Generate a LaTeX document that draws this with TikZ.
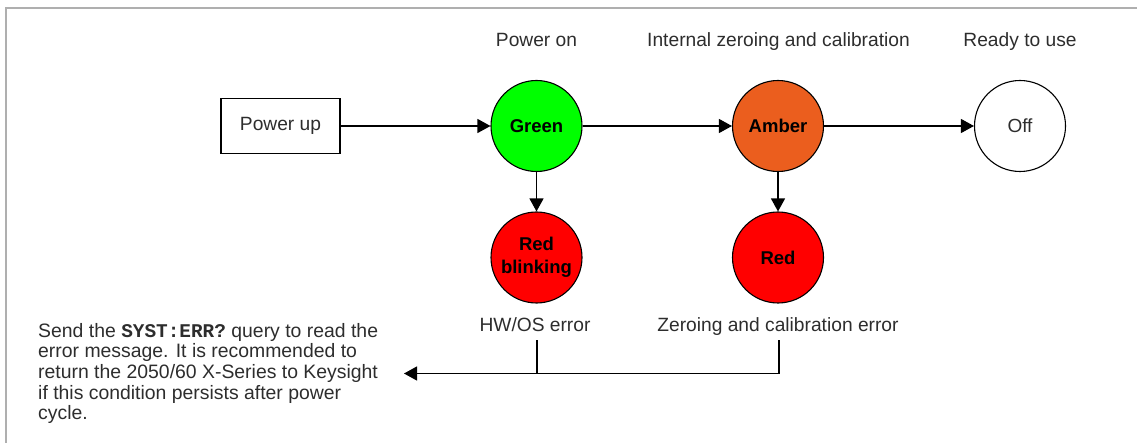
\documentclass[tikz,border=0pt]{standalone}
\usepackage{fontspec}
\setmainfont{Liberation Sans}
\setmonofont{Liberation Mono}
\usetikzlibrary{arrows.meta}
\definecolor{txt}{RGB}{45,45,45}
\definecolor{lampgreen}{RGB}{0,255,0}
\definecolor{lampamber}{RGB}{235,94,30}
\definecolor{lampred}{RGB}{255,0,0}
\definecolor{framegray}{RGB}{175,175,175}
\begin{document}
\begin{tikzpicture}[x=1pt,y=-1pt,
  every node/.style={font=\fontsize{19.2}{20.5}\selectfont, text=txt},
  lamp/.style={circle, draw=black, line width=1.1pt, minimum size=91pt, inner sep=0pt,
    align=center, font=\fontsize{18.5}{23}\selectfont\bfseries, text=black},
  boxnode/.style={draw=black, line width=1.1pt, minimum width=119pt, minimum height=55pt, inner sep=0pt},
  lbl/.style={anchor=base, inner sep=0pt},
  conn/.style={draw=black, line width=1.2pt},
  arr/.style={conn, -{Triangle[length=13pt,width=14pt]}}]
\useasboundingbox (0,0) rectangle (1137,443);
\draw[framegray, line width=1.5pt] (6,443) -- (6,8) -- (1137,8);
% header labels
\node[lbl] (hpower) at (536.5,47) {Power on};
\node[lbl] (hcal) at (778.5,47) {Internal zeroing and calibration};
\node[lbl] (hready) at (1020,47) {Ready to use};
% main row
\node[boxnode] (pu) at (280.5,126) {Power up};
\node[lamp, fill=lampgreen] (green) at (536.5,126) {Green};
\node[lamp, fill=lampamber] (amber) at (778,126) {Amber};
\node[lamp, fill=white, font=\fontsize{19}{23}\selectfont, text=txt] (off) at (1020,126) {Off};
% error row
\node[lamp, fill=lampred] (redb) at (536.5,257.5) {Red\\blinking};
\node[lamp, fill=lampred] (red) at (778,257.5) {Red};
\node[lbl] (hwlbl) at (535,332) {HW/OS error};
\node[lbl] (zclbl) at (778,332) {Zeroing and calibration error};
\node[anchor=north west, inner sep=0pt, align=left, font=\fontsize{19.4}{20.6}\selectfont] (msg) at (38,323)
  {Send the \texttt{\bfseries SYST:ERR?} query to read the\\
   error message. It is recommended to\\
   return the 2050/60 X-Series to Keysight\\
   if this condition persists after power\\
   cycle.};
% connectors
\draw[arr] (pu) -- (green);
\draw[arr] (green) -- (amber);
\draw[arr] (amber) -- (off);
\draw[arr] (green) -- (redb);
\draw[arr] (amber) -- (red);
\coordinate (hwtop) at (537,340);
\coordinate (zctop) at (779,340);
\coordinate (tip) at (404,373.5);
\draw[arr] (zctop) |- (tip);
\draw[conn] (hwtop) -- (hwtop |- tip);
\end{tikzpicture}
\end{document}
